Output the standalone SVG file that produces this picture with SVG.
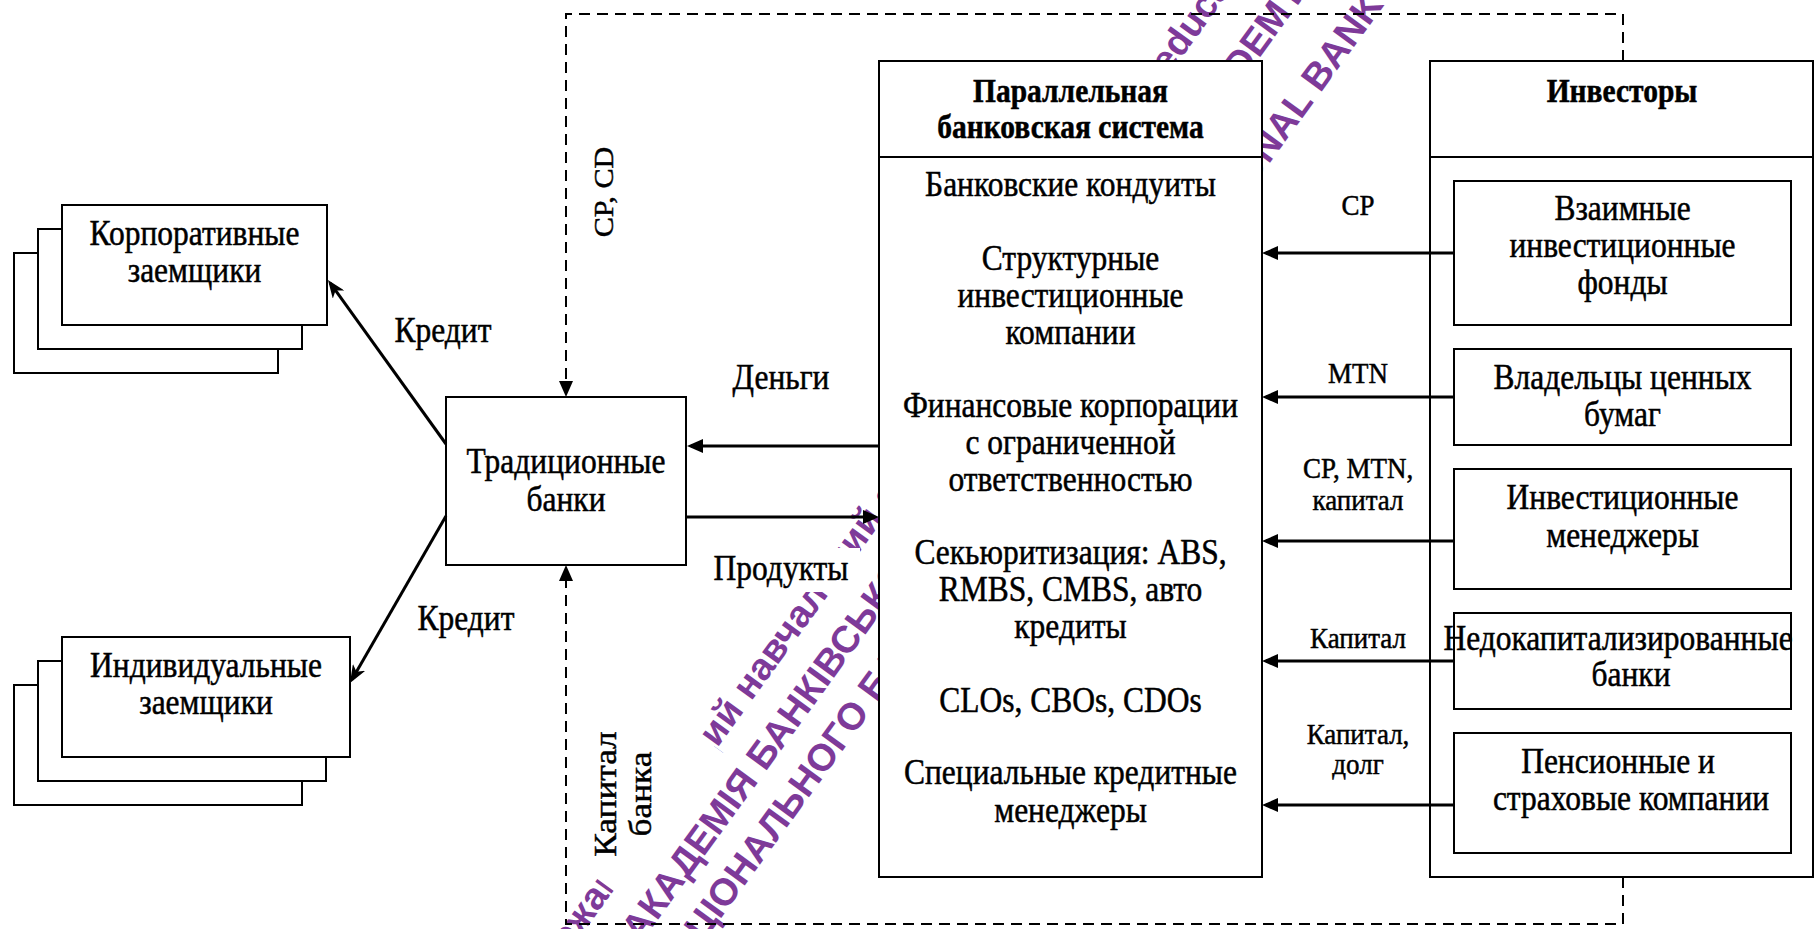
<svg xmlns="http://www.w3.org/2000/svg" width="1815" height="929" viewBox="0 0 1815 929">
<style>
.box{fill:#fff;stroke:#000;stroke-width:2}
.ln{fill:none;stroke:#000;stroke-width:2}
.ar{fill:none;stroke:#000;stroke-width:3}
.da{fill:none;stroke:#000;stroke-width:2;stroke-dasharray:11 7}
.t{font-family:"Liberation Serif","Times New Roman",serif;font-size:31.5px;text-anchor:middle;fill:#000;stroke:#000;stroke-width:0.45}
.b{font-weight:bold;font-size:29.5px}
.s{font-size:27px}
.wm{font-family:"Liberation Sans",Arial,sans-serif;font-weight:bold;font-size:38px;fill:#7E3A99}
.mask{fill:#fff}
</style>
<defs>
<marker id="ah" markerUnits="userSpaceOnUse" markerWidth="16" markerHeight="14" refX="12" refY="7" orient="auto"><path d="M0,0 L16,7 L0,14 z" fill="#000"/></marker>
<marker id="st" markerUnits="userSpaceOnUse" markerWidth="18" markerHeight="14" refX="14" refY="7" orient="auto"><path d="M0,0 L18,7 L0,14 L5,7 z" fill="#000"/></marker>
</defs>
<rect width="1815" height="929" fill="#fff"/>
<g id="watermark">
<g transform="rotate(-54)">
<text class="wm" x="-486" y="1020">Державний вищий навчальний заклад</text>
<text class="wm" x="395" y="990">State higher educational institution</text>
<text class="wm" x="-387" y="1073">АКАДЕМІЯ БАНКІВСЬКОЇ СПРАВИ</text>
<text class="wm" x="360" y="1053">UKRAINIAN ACADEMY OF BANKING</text>
<text class="wm" x="-404" y="1123">НАЦІОНАЛЬНОГО БАНКУ УКРАЇНИ</text>
<text class="wm" x="497" y="1123">NATIONAL BANK OF UKRAINE</text>
<rect class="mask" x="-360" y="985" width="176" height="48"/>
</g>
<rect class="mask" x="705" y="548" width="155" height="44"/>
</g>
<g id="corporate">
<rect class="box" x="14" y="253" width="264" height="120"/>
<rect class="box" x="38" y="229" width="264" height="120"/>
<rect class="box" x="62" y="205" width="265" height="120"/>
<text class="t" transform="translate(194.5,245) scale(1,1.12)"><tspan x="0" y="0">Корпоративные</tspan><tspan x="0" dy="33">заемщики</tspan></text>
</g>
<g id="individual">
<rect class="box" x="14" y="685" width="288" height="120"/>
<rect class="box" x="38" y="661" width="288" height="120"/>
<rect class="box" x="62" y="637" width="288" height="120"/>
<text class="t" transform="translate(206,677) scale(1,1.12)"><tspan x="0" y="0">Индивидуальные</tspan><tspan x="0" dy="33">заемщики</tspan></text>
</g>
<g id="traditional">
<rect class="box" x="446" y="397" width="240" height="168"/>
<text class="t" transform="translate(566,473) scale(1,1.12)"><tspan x="0" y="0">Традиционные</tspan><tspan x="0" dy="34">банки</tspan></text>
</g>
<g id="shadow">
<rect class="box" x="879" y="61" width="383" height="816"/>
<path class="ln" d="M879,157 H1262"/>
<text class="t b" transform="translate(1070.5,102) scale(1,1.12)"><tspan x="0" y="0">Параллельная</tspan><tspan x="0" dy="32">банковская система</tspan></text>
<text class="t" transform="translate(1070.5,196) scale(1,1.12)">Банковские кондуиты</text>
<text class="t" transform="translate(1070.5,270) scale(1,1.12)"><tspan x="0" y="0">Структурные</tspan><tspan x="0" dy="33">инвестиционные</tspan><tspan x="0" dy="33">компании</tspan></text>
<text class="t" transform="translate(1070.5,417) scale(1,1.12)"><tspan x="0" y="0">Финансовые корпорации</tspan><tspan x="0" dy="33">с ограниченной</tspan><tspan x="0" dy="33">ответственностью</tspan></text>
<text class="t" transform="translate(1070.5,564) scale(1,1.12)"><tspan x="0" y="0">Секьюритизация: ABS,</tspan><tspan x="0" dy="33">RMBS, CMBS, авто</tspan><tspan x="0" dy="33">кредиты</tspan></text>
<text class="t" transform="translate(1070.5,712) scale(1,1.12)">CLOs, CBOs, CDOs</text>
<text class="t" transform="translate(1070.5,784) scale(1,1.12)"><tspan x="0" y="0">Специальные кредитные</tspan><tspan x="0" dy="34">менеджеры</tspan></text>
</g>
<g id="investors">
<rect class="box" x="1430" y="61" width="383" height="816"/>
<path class="ln" d="M1430,157 H1813"/>
<text class="t b" transform="translate(1622,102) scale(1,1.12)">Инвесторы</text>
</g>
<g id="mutual-funds">
<rect class="box" x="1454" y="181" width="337" height="144"/>
<text class="t" transform="translate(1622.5,220) scale(1,1.12)"><tspan x="0" y="0">Взаимные</tspan><tspan x="0" dy="33">инвестиционные</tspan><tspan x="0" dy="33">фонды</tspan></text>
</g>
<g id="security-holders">
<rect class="box" x="1454" y="349" width="337" height="96"/>
<text class="t" transform="translate(1622.5,389) scale(1,1.12)"><tspan x="0" y="0">Владельцы ценных</tspan><tspan x="0" dy="33">бумаг</tspan></text>
</g>
<g id="investment-managers">
<rect class="box" x="1454" y="469" width="337" height="120"/>
<text class="t" transform="translate(1622.5,509) scale(1,1.12)"><tspan x="0" y="0">Инвестиционные</tspan><tspan x="0" dy="34">менеджеры</tspan></text>
</g>
<g id="undercapitalized-banks">
<rect class="box" x="1454" y="613" width="337" height="96"/>
<text class="t" transform="translate(1618,650) scale(1,1.12)">Недокапитализированные</text>
<text class="t" transform="translate(1631,686) scale(1,1.12)">банки</text>
</g>
<g id="pension-insurance">
<rect class="box" x="1454" y="733" width="337" height="120"/>
<text class="t" transform="translate(1618,773) scale(1,1.12)">Пенсионные и</text>
<text class="t" transform="translate(1631,810) scale(1,1.12)">страховые компании</text>
</g>
<g id="connectors">
<path class="da" d="M1623,61 V14 H566 V393" marker-end="url(#ah)"/>
<path class="da" d="M1623,877 V924 H566 V569" marker-end="url(#ah)"/>
<path class="ar" d="M446,444 L330.3,283.2" marker-end="url(#st)"/>
<path class="ar" d="M446,516 L352,679.5" marker-end="url(#st)"/>
<path class="ar" d="M879,446 H691" marker-end="url(#ah)"/>
<path class="ar" d="M687,517 H875" marker-end="url(#ah)"/>
<path class="ar" d="M1454,253 H1266" marker-end="url(#ah)"/>
<path class="ar" d="M1454,397 H1266" marker-end="url(#ah)"/>
<path class="ar" d="M1454,541 H1266" marker-end="url(#ah)"/>
<path class="ar" d="M1454,661 H1266" marker-end="url(#ah)"/>
<path class="ar" d="M1454,805 H1266" marker-end="url(#ah)"/>
<text class="t" transform="translate(443,342) scale(1,1.12)">Кредит</text>
<text class="t" transform="translate(466,630) scale(1,1.12)">Кредит</text>
<text class="t" transform="translate(781,389) scale(1,1.12)">Деньги</text>
<text class="t" transform="translate(781,580) scale(1,1.12)">Продукты</text>
<text class="t s" transform="translate(613,192) scale(1,1.12) rotate(-90)">CP, CD</text>
<text class="t" transform="translate(616,794) scale(1,1.12) rotate(-90)"><tspan x="0" y="0">Капитал</tspan><tspan x="0" dy="35">банка</tspan></text>
<text class="t s" transform="translate(1358,215) scale(1,1.12)">CP</text>
<text class="t s" transform="translate(1358,383) scale(1,1.12)">MTN</text>
<text class="t s" transform="translate(1358,478) scale(1,1.12)"><tspan x="0" y="0">CP, MTN,</tspan><tspan x="0" dy="28.5">капитал</tspan></text>
<text class="t s" transform="translate(1358,648) scale(1,1.12)">Капитал</text>
<text class="t s" transform="translate(1358,744) scale(1,1.12)"><tspan x="0" y="0">Капитал,</tspan><tspan x="0" dy="27">долг</tspan></text>
</g>
</svg>
